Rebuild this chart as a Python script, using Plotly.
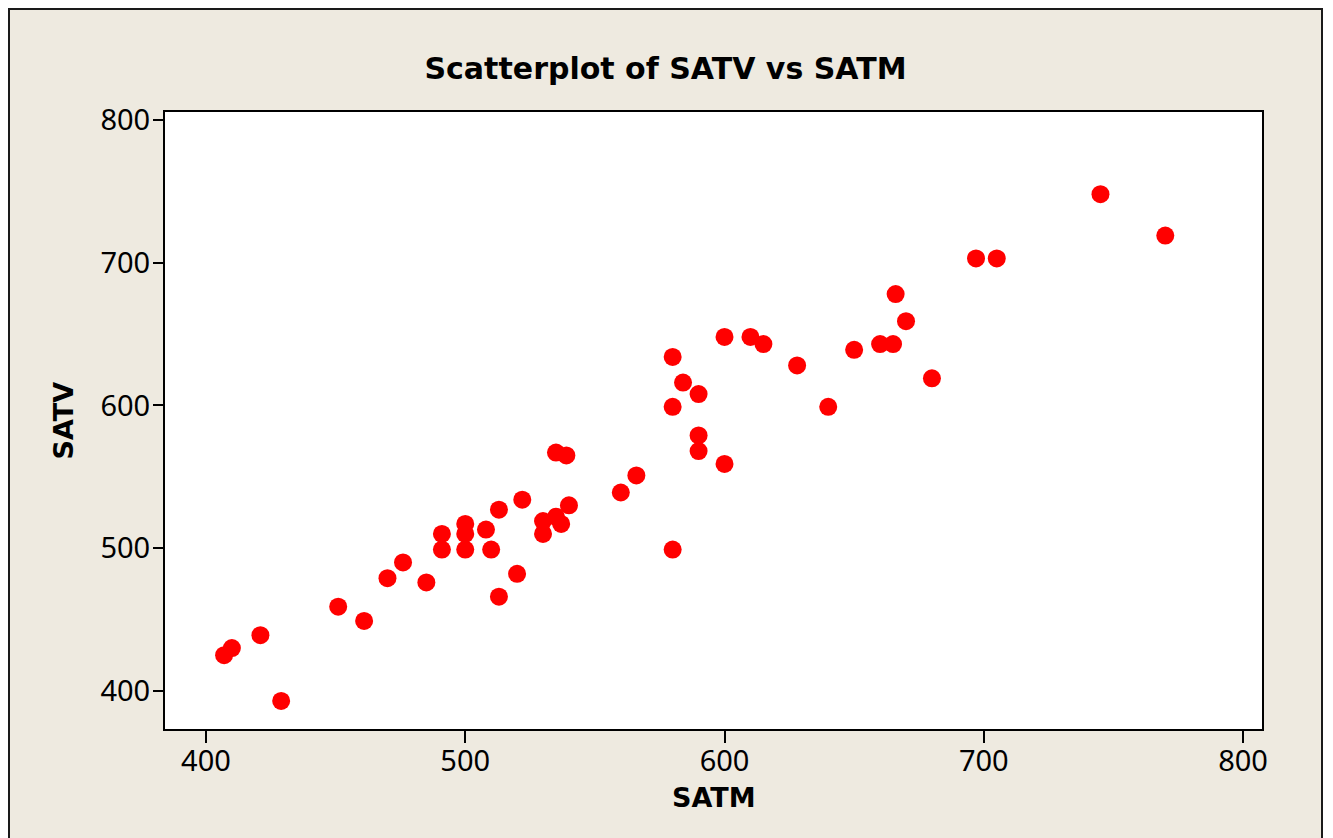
import plotly.graph_objects as go

satm = [407, 410, 421, 429, 451, 461, 470, 476, 485, 491, 491, 500, 500, 500,
        508, 510, 513, 520, 513, 522, 530, 530, 535, 537, 540, 535, 539, 560,
        566, 580, 580, 580, 584, 590, 590, 590, 600, 600, 610, 615, 628, 640,
        650, 660, 665, 666, 670, 680, 697, 705, 745, 770]
satv = [425, 430, 439, 393, 459, 449, 479, 490, 476, 510, 499, 517, 510, 499,
        513, 499, 466, 482, 527, 534, 519, 510, 522, 517, 530, 567, 565, 539,
        551, 499, 634, 599, 616, 608, 579, 568, 559, 648, 648, 643, 628, 599,
        639, 643, 643, 678, 659, 619, 703, 703, 748, 719]
tick_vals = [400, 500, 600, 700, 800]
title_text = "Scatterplot of SATV vs SATM"
x_label = "SATM"
y_label = "SATV"

bg = "#EEEAE0"
W, H = 1315, 830
L, R, T, B = 157, 61, 104, 109
PW, PH = W - L - R, H - T - B

fig = go.Figure()
fig.add_trace(go.Scatter(x=satm, y=satv, mode="markers",
                         marker=dict(color="#FF0000", size=18, line=dict(width=0)),
                         showlegend=False, hoverinfo="x+y"))

axis_common = dict(showgrid=False, zeroline=False, showline=True, mirror=True,
                   linecolor="black", linewidth=2, ticks="outside",
                   tickcolor="black", tickwidth=2, tickvals=tick_vals,
                   tickfont=dict(family="Noto Sans", size=29, color="black"))

fig.update_layout(
    width=W, height=H,
    margin=dict(l=L, r=R, t=T, b=B),
    paper_bgcolor=bg, plot_bgcolor="white",
    title=dict(text="<b>" + title_text + "</b>", x=0.5, xref="container",
               y=1 - 60 / H, yref="container", yanchor="middle", xanchor="center",
               font=dict(family="DejaVu Sans", size=30, color="black")),
    xaxis=dict(range=[384.2, 807.3], ticklen=12, ticklabelstandoff=-7, **axis_common),
    yaxis=dict(range=[373.3, 805.6], ticklen=10, ticklabelstandoff=-3, **axis_common),
    annotations=[
        dict(text="<b>" + x_label + "</b>", x=0.5, y=-68 / PH,
             xref="paper", yref="paper", xanchor="center", yanchor="middle",
             showarrow=False, font=dict(family="DejaVu Sans", size=27, color="black")),
        dict(text="<b>" + y_label + "</b>", x=-102 / PW, y=0.5,
             xref="paper", yref="paper", xanchor="center", yanchor="middle",
             textangle=-90, showarrow=False,
             font=dict(family="DejaVu Sans", size=27, color="black")),
    ],
    shapes=[dict(type="rect", xref="paper", yref="paper",
                 x0=(-L + 1) / PW, x1=1 + (R - 1) / PW,
                 y0=(-B - 10) / PH, y1=1 + (T - 1) / PH,
                 line=dict(color="#1a1a1a", width=2), fillcolor="rgba(0,0,0,0)",
                 layer="below")],
)

fig.write_html("out.html")
